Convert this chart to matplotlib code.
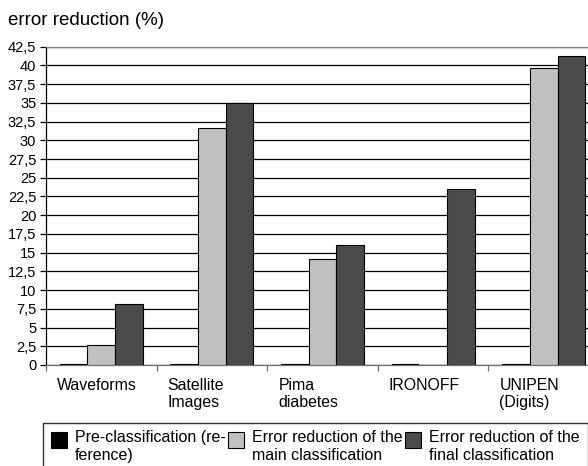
import matplotlib
matplotlib.use("Agg")
import matplotlib.pyplot as plt
import numpy as np
from matplotlib.ticker import FixedLocator, FuncFormatter
from matplotlib.legend_handler import HandlerPatch, update_from_first_child
from matplotlib.patches import Rectangle
from matplotlib.container import BarContainer

plt.rcParams['font.family'] = ['Liberation Sans', 'DejaVu Sans']

categories = ["Waveforms", "Satellite\nImages", "Pima\ndiabetes", "IRONOFF", "UNIPEN\n(Digits)"]
series_names = ["Pre-classification (re-\nference)",
                "Error reduction of the\nmain classification",
                "Error reduction of the\nfinal classification"]
pre_values = [0.2, 0.2, 0.2, 0.2, 0.2]
main_values = [2.7, 31.7, 14.1, 0.12, 39.7]
final_values = [8.2, 35.0, 16.0, 23.5, 41.3]
series_values = [pre_values, main_values, final_values]
colors = ["#000000", "#c0c0c0", "#4a4a4a"]
yticks = np.arange(0, 42.51, 2.5)

W, H = 588, 466
fig = plt.figure(figsize=(W / 100, H / 100), dpi=100)
ax = fig.add_axes([46 / W, 1 - 365 / H, (599 - 46) / W, (365 - 46.7) / H])

x = np.arange(len(categories))
bw = 0.25
for k, (vals, col, name) in enumerate(zip(series_values, colors, series_names)):
    edges = ["#000000" if v > 0.15 else col for v in vals]
    ax.bar(x + (k - 1) * bw, vals, width=bw, color=col, edgecolor=edges,
           linewidth=0.8, label=name, zorder=3)

ax.set_xlim(-0.5, len(categories) - 0.5)
ax.set_ylim(0, 42.5)
ax.set_yticks(yticks)
ax.yaxis.set_major_formatter(FuncFormatter(
    lambda v, p: (f"{v:g}").replace(".", ",")))
ax.yaxis.grid(True, color="#000000", linewidth=0.9, zorder=0)
ax.set_axisbelow(True)

# category boundaries as minor ticks, labels left aligned in each slot
ax.xaxis.set_minor_locator(FixedLocator(np.arange(len(categories) + 1) - 0.5))
ax.set_xticks(x - 0.4)
ax.set_xticklabels(categories, ha="left", multialignment="left", fontsize=11.4)
ax.tick_params(axis="x", which="major", length=0, pad=9)
ax.tick_params(axis="x", which="minor", length=4, color="#707070", width=0.9, direction="out")
ax.tick_params(axis="y", length=4, width=0.9, direction="out", pad=3, labelsize=10.5)

for s in ["top", "right"]:
    ax.spines[s].set_color("#808080")
    ax.spines[s].set_linewidth(0.9)
ax.spines["bottom"].set_color("#707070")
ax.spines["bottom"].set_linewidth(0.9)
ax.spines["left"].set_color("#000000")
ax.spines["left"].set_linewidth(0.9)

fig.text(8 / W, 1 - 25 / H, "error reduction (%)", fontsize=13.5, va="baseline", ha="left")


def top_square(legend, orig_handle, xdescent, ydescent, width, height, fontsize):
    s = 1.0 * fontsize
    return Rectangle((-xdescent, 1.3 * fontsize - s), s, s)


handles, labels = ax.get_legend_handles_labels()
leg = fig.legend(handles, labels, ncol=3, loc="upper left",
                 bbox_to_anchor=(43 / W, 1 - 422.5 / H), fontsize=11.5,
                 frameon=True, fancybox=False, edgecolor="#000000",
                 handlelength=1.0, handleheight=0.9, handletextpad=0.5,
                 columnspacing=0.15, borderpad=0.5, borderaxespad=0,
                 labelspacing=0.2,
                 handler_map={BarContainer: HandlerPatch(patch_func=top_square,
                                                         update_func=update_from_first_child)})
leg.get_frame().set_linewidth(1.0)
for h in leg.legend_handles:
    h.set_edgecolor("#000000")
    h.set_linewidth(0.8)

fig.savefig("out.png", dpi=100)
